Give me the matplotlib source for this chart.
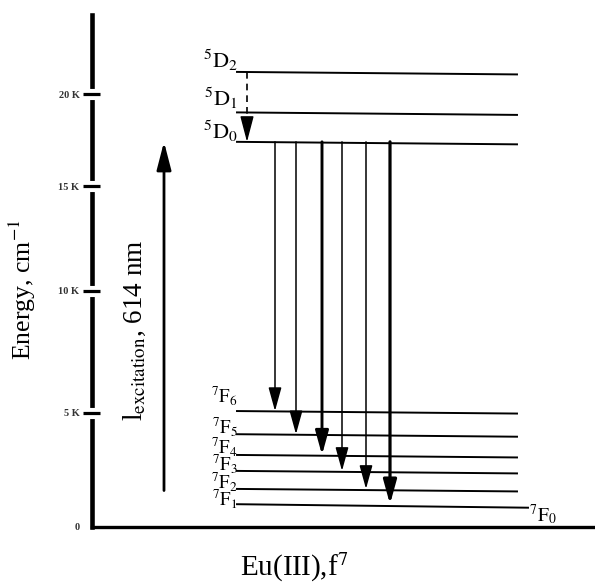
import numpy as np
import matplotlib.pyplot as plt

plt.rcParams['font.family'] = 'Liberation Serif'
plt.rcParams['mathtext.fontset'] = 'stix'

# ----------------------------------------------------------------------
# Data: energy levels of Eu(III), cm-1
# ----------------------------------------------------------------------
upper_labels = [r'$^{5}\mathrm{D}_{2}$', r'$^{5}\mathrm{D}_{1}$', r'$^{5}\mathrm{D}_{0}$']
upper_energy = [21200, 19000, 17400]

lower_labels = [r'$^{7}\mathrm{F}_{6}$', r'$^{7}\mathrm{F}_{5}$', r'$^{7}\mathrm{F}_{4}$',
                r'$^{7}\mathrm{F}_{3}$', r'$^{7}\mathrm{F}_{2}$', r'$^{7}\mathrm{F}_{1}$']
lower_energy = [5080, 4070, 3160, 2460, 1670, 1000]
ground_label = r'$^{7}\mathrm{F}_{0}$'

excitation_start = 1600          # tail of the 614 nm arrow
tick_values = [0, 5000, 10000, 15000, 20000]
tick_labels = ['0', '5 K', '10 K', '15 K', '20 K']

# the drawn energy axis is not evenly spaced, follow the picture
knot_e = np.array([0, 5000, 10000, 15000, 20000], float)
knot_u = np.array([0, 114, 236, 341, 433], float)
lo_slope = (knot_u[1] - knot_u[0]) / (knot_e[1] - knot_e[0])
hi_slope = (knot_u[-1] - knot_u[-2]) / (knot_e[-1] - knot_e[-2])


def fwd(e):
    e = np.asarray(e, float)
    u = np.interp(e, knot_e, knot_u)
    u = np.where(e > knot_e[-1], knot_u[-1] + (e - knot_e[-1]) * hi_slope, u)
    u = np.where(e < 0, e * lo_slope, u)
    return u


def inv(u):
    u = np.asarray(u, float)
    e = np.interp(u, knot_u, knot_e)
    e = np.where(u > knot_u[-1], knot_e[-1] + (u - knot_u[-1]) / hi_slope, e)
    e = np.where(u < 0, u / lo_slope, e)
    return e


def shifted(e, dpx):
    # energy that sits dpx pixels above (+) or below (-) level e
    return float(inv(fwd(e) + dpx))


# ----------------------------------------------------------------------
# Figure
# ----------------------------------------------------------------------
fig = plt.figure(figsize=(5.95, 5.83), dpi=100)
ax = fig.add_axes([92 / 595, 56 / 583, 503 / 595, 512 / 583])
ax.set_yscale('function', functions=(fwd, inv))
ax.set_xlim(0, 503)
ax.set_ylim(0, float(inv(512)))

for s in ['top', 'right']:
    ax.spines[s].set_visible(False)
ax.spines['left'].set_linewidth(3.3)
ax.spines['bottom'].set_linewidth(2.4)
ax.set_xticks([])
ax.set_yticks(tick_values)
ax.set_yticklabels(tick_labels, fontsize=7.5, fontweight='bold', color='#333333')
ax.tick_params(axis='y', length=0, pad=9)

# tick marks that break the axis line
ytr = ax.get_yaxis_transform()
for v in tick_values[1:]:
    ax.plot([-6 / 503, 6 / 503], [v, v], color='white', lw=8,
            solid_capstyle='butt', transform=ytr, clip_on=False, zorder=3)
    ax.plot([-9 / 503, 8 / 503], [v, v], color='black', lw=2.3,
            solid_capstyle='butt', transform=ytr, clip_on=False, zorder=4)

# level lines, labels sit at the left end (offsets in points)
x0, x1, x1_ground = 145, 425, 436
upper_lift = [3, 4.5, 2]
lower_lift = [6, 1, 1.5, 0.8, 0.8, -0.5]

for lab, e, dy in zip(upper_labels, upper_energy, upper_lift):
    ax.plot([x0, x1], [e, shifted(e, -2.5)], color='black', lw=1.4)
    ax.annotate(lab, xy=(x0 + 1, e), xytext=(0, dy), textcoords='offset points',
                ha='right', va='baseline', fontsize=16)

for i, (lab, e, dy) in enumerate(zip(lower_labels, lower_energy, lower_lift)):
    last = i == len(lower_energy) - 1
    xe = x1_ground if last else x1
    ax.plot([x0, xe], [e, shifted(e, -3.5 if last else -2.5)], color='black', lw=1.4)
    ax.annotate(lab, xy=(x0 + 1, e), xytext=(0, dy), textcoords='offset points',
                ha='right', va='baseline', fontsize=13.5)
ax.annotate(ground_label, xy=(x1_ground, shifted(lower_energy[-1], -3.5)),
            xytext=(1, -10), textcoords='offset points',
            ha='left', va='baseline', fontsize=14)

# emission arrows 5D0 -> 7FJ
arrow_x = [183, 204, 230, 250, 274, 298]
arrow_lw = [1.1, 1.1, 2.1, 1.1, 1.1, 2.3]
for xa, lw, e in zip(arrow_x, arrow_lw, lower_energy):
    ax.annotate('', xy=(xa, e), xytext=(xa, upper_energy[2]),
                arrowprops=dict(arrowstyle='-|>,head_length=14.5,head_width=4',
                                lw=lw, color='black', shrinkA=0, shrinkB=0,
                                mutation_scale=1))

# non-radiative 5D2 -> 5D0 (dashed shaft, solid head)
head_top = shifted(upper_energy[2], 22)
ax.plot([155, 155], [upper_energy[0], head_top], color='black', lw=1.2,
        ls=(0, (4, 3)))
ax.annotate('', xy=(155, upper_energy[2]), xytext=(155, head_top),
            arrowprops=dict(arrowstyle='-|>,head_length=16,head_width=4.2',
                            lw=1.0, color='black', shrinkA=0, shrinkB=0,
                            mutation_scale=1))

# excitation arrow
ax.annotate('', xy=(72, upper_energy[2]), xytext=(72, excitation_start),
            arrowprops=dict(arrowstyle='-|>,head_length=17,head_width=4.4',
                            lw=2.0, color='black', shrinkA=0, shrinkB=0,
                            mutation_scale=1))

ax.text(0.085, 0.385, r'l$_{\mathrm{excitation}}$, 614 nm', transform=ax.transAxes,
        rotation=90, ha='center', va='center', fontsize=19.5)
ax.text(-0.139, 0.463, r'Energy, cm$^{-1}$', transform=ax.transAxes,
        rotation=90, ha='center', va='center', fontsize=18.5)
ax.text(0.402, -0.078, r'Eu(III),f$^{7}$', transform=ax.transAxes,
        ha='center', va='center', fontsize=21)

plt.savefig('out.png', dpi=100)
plt.close()
